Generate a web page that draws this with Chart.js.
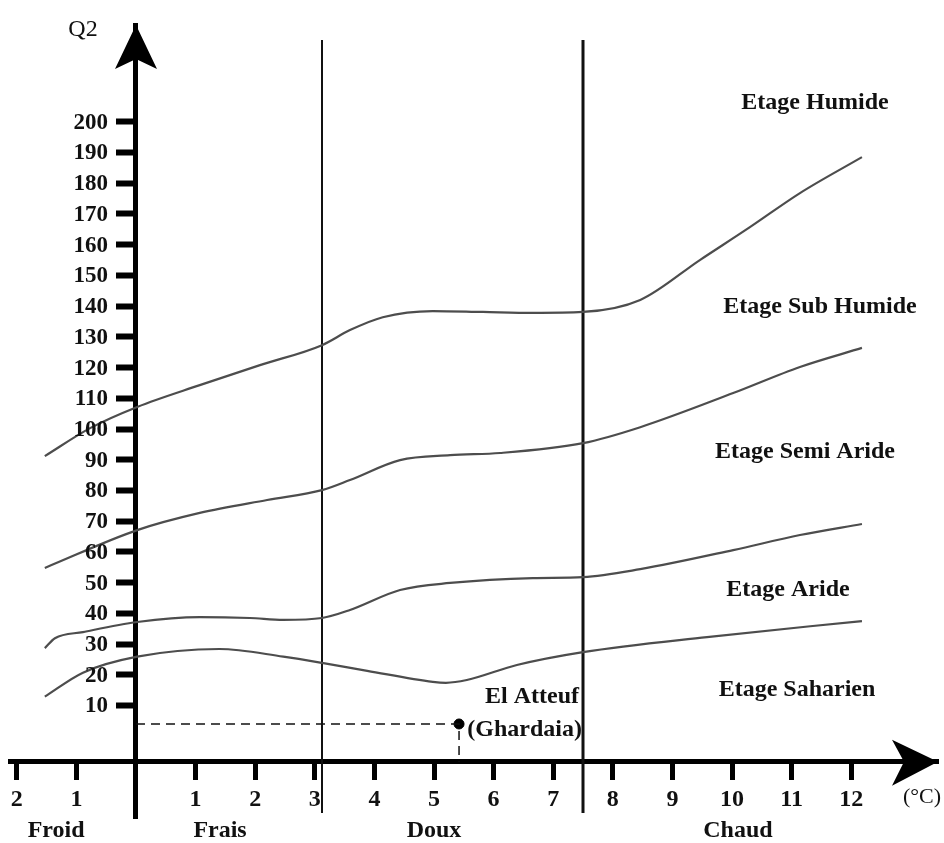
<!DOCTYPE html>
<html>
<head>
<meta charset="utf-8">
<script src="https://cdn.jsdelivr.net/npm/chart.js@4/dist/chart.umd.min.js"></script>
<style>
html,body{margin:0;padding:0;background:#fff;}
</style>
</head>
<body>
<canvas id="myChart" width="944" height="843"></canvas>
<script>
// limites des etages bioclimatiques (m en degC, Q2)
var limHumideX = [-1.53, -0.77, 0.02, 1.07, 2.08, 3.12, 3.59, 4.14, 4.98, 5.82, 6.66, 7.5, 8.46, 9.46, 10.3, 11.14, 12.18];
var limHumideY = [91.2, 100.3, 107.2, 114.3, 120.8, 127.3, 132.2, 136.4, 138.4, 138.1, 137.8, 138.1, 142.0, 155.0, 165.7, 176.8, 188.5];

var limSubHumideX = [-1.53, 0.02, 1.07, 2.2, 3.12, 3.59, 4.43, 5.27, 6.11, 7.5, 8.46, 10.02, 11.14, 12.18];
var limSubHumideY = [54.8, 67.1, 72.7, 76.9, 80.1, 83.4, 89.9, 91.5, 92.2, 95.4, 100.6, 111.7, 120.2, 126.4];

var limSemiArideX = [-1.53, -1.36, -0.89, 0.02, 1.07, 1.91, 2.47, 3.12, 3.59, 4.43, 5.27, 6.66, 7.5, 8.46, 10.02, 11.14, 12.18];
var limSemiArideY = [28.7, 31.9, 33.9, 37.2, 38.8, 38.5, 37.9, 38.5, 41.1, 47.6, 49.9, 51.5, 51.8, 54.4, 60.6, 65.5, 69.1];

var limAridX = [-1.53, -0.89, 0.02, 1.4, 2.47, 3.12, 3.88, 4.98, 5.2, 5.55, 6.39, 7.5, 9.58, 12.18];
var limAridY = [12.9, 20.7, 25.9, 28.4, 25.9, 23.9, 21.3, 17.7, 17.4, 18.3, 23.2, 27.4, 32.3, 37.5];

// station
var stationName = ["El Atteuf", "(Ghardaia)"];
var stationM = 5.42;
var stationQ2 = 4.0;

// limites des variantes (hivers)
var zoneLimits = [3.12, 7.5];
var zoneNames = ["Froid", "Frais", "Doux", "Chaud"];
var zoneCenters = [-1.34, 1.41, 5.0, 10.1];

var etageNames = ["Etage Humide", "Etage Sub Humide", "Etage Semi Aride", "Etage Aride", "Etage Saharien"];

var xTicks = [-2, -1, 1, 2, 3, 4, 5, 6, 7, 8, 9, 10, 11, 12];
var yTicks = [10, 20, 30, 40, 50, 60, 70, 80, 90, 100, 110, 120, 130, 140, 150, 160, 170, 180, 190, 200];

var xAxisAt = -8.3;   // Q2 value where the m axis is drawn

function pts(xs, ys) {
    var out = [];
    for (var i = 0; i < xs.length; i++) {
        out.push({x: xs[i], y: ys[i]});
    }
    return out;
}

function curve(label, xs, ys) {
    return {
        label: label,
        data: pts(xs, ys),
        showLine: true,
        borderColor: '#4d4d4d',
        borderWidth: 2.2,
        pointRadius: 0,
        cubicInterpolationMode: 'monotone',
        fill: false
    };
}

var serif = '"Liberation Serif", "Times New Roman", serif';

var drawExtras = {
    id: 'drawExtras',
    beforeDraw: function(chart) {
        var c = chart.ctx;
        c.save();
        c.fillStyle = '#fff';
        c.fillRect(0, 0, chart.width, chart.height);
        c.restore();
    },
    beforeDatasetsDraw: function(chart) {
        var c = chart.ctx, xs = chart.scales.x, area = chart.chartArea;
        c.save();
        c.strokeStyle = '#111';
        for (var i = 0; i < zoneLimits.length; i++) {
            var px = Math.round(xs.getPixelForValue(zoneLimits[i]));
            c.lineWidth = i == 0 ? 2 : 3;
            c.beginPath();
            c.moveTo(px, area.top + 15);
            c.lineTo(px, area.bottom - 5);
            c.stroke();
        }
        c.restore();
    },
    afterDraw: function(chart) {
        var c = chart.ctx, xs = chart.scales.x, ys = chart.scales.y, area = chart.chartArea;
        var ox = xs.getPixelForValue(0), oy = ys.getPixelForValue(xAxisAt);
        c.save();
        c.fillStyle = '#000';
        // arrow Q2
        c.beginPath();
        c.moveTo(ox, area.top);
        c.lineTo(ox + 21, area.top + 44);
        c.lineTo(ox, area.top + 34);
        c.lineTo(ox - 21, area.top + 44);
        c.closePath();
        c.fill();
        // arrow m
        c.beginPath();
        c.moveTo(area.right, oy);
        c.lineTo(area.right - 46, oy - 22);
        c.lineTo(area.right - 34, oy);
        c.lineTo(area.right - 46, oy + 24);
        c.closePath();
        c.fill();

        // Q2 tick labels, left of the axis
        c.fillStyle = '#111';
        c.textBaseline = 'middle';
        c.textAlign = 'right';
        c.font = 'bold 23px ' + serif;
        ys.ticks.forEach(function(t) {
            c.fillText(String(t.value), ox - 28, ys.getPixelForValue(t.value) + 1);
        });

        c.font = '24px ' + serif;
        c.textAlign = 'center';
        c.fillText('Q2', 83, 30);
        c.font = '22px ' + serif;
        c.fillText('(\u00B0C)', 922, 797);

        c.font = 'bold 24px ' + serif;
        var etagePos = [[815, 103], [820, 307], [805, 452], [788, 590], [797, 690]];
        for (var i = 0; i < etageNames.length; i++) {
            c.fillText(etageNames[i], etagePos[i][0], etagePos[i][1]);
        }
        for (var j = 0; j < zoneNames.length; j++) {
            c.fillText(zoneNames[j], xs.getPixelForValue(zoneCenters[j]), 831);
        }
        c.textAlign = 'right';
        var sy = ys.getPixelForValue(stationQ2);
        c.fillText(stationName[0], 579, sy - 27);
        c.fillText(stationName[1], 582, sy + 6);
        c.restore();
    }
};

var ctx = document.getElementById('myChart');
var myChart = new Chart(ctx, {
    type: 'scatter',
    data: {
        datasets: [
            curve('Humide / Sub Humide', limHumideX, limHumideY),
            curve('Sub Humide / Semi Aride', limSubHumideX, limSubHumideY),
            curve('Semi Aride / Aride', limSemiArideX, limSemiArideY),
            curve('Aride / Saharien', limAridX, limAridY),
            {
                label: 'repere',
                data: [{x: 0, y: stationQ2}, {x: stationM, y: stationQ2}, {x: stationM, y: xAxisAt}],
                showLine: true,
                borderColor: '#111',
                borderWidth: 1.5,
                borderDash: [9, 6],
                pointRadius: 0,
                tension: 0
            },
            {
                label: stationName.join(' '),
                data: [{x: stationM, y: stationQ2}],
                pointRadius: 5,
                pointBackgroundColor: '#000',
                pointBorderColor: '#000'
            }
        ]
    },
    options: {
        responsive: false,
        animation: false,
        devicePixelRatio: 1,
        layout: {padding: {top: 25, left: 10, right: 6, bottom: 25}},
        plugins: {
            legend: {display: false},
            tooltip: {enabled: false}
        },
        scales: {
            x: {
                type: 'linear',
                min: -2.114,
                max: 13.456,
                position: {y: xAxisAt},
                afterBuildTicks: function(scale) {
                    scale.ticks = xTicks.map(function(v) { return {value: v}; });
                },
                grid: {drawOnChartArea: false, drawTicks: true, tickLength: 16, tickWidth: 5, tickColor: '#000'},
                border: {display: true, color: '#000', width: 5},
                ticks: {
                    padding: 8,
                    color: '#111',
                    font: {family: serif, size: 24, weight: 'bold'},
                    callback: function(v) { return Math.abs(v); }
                }
            },
            y: {
                type: 'linear',
                min: -26.6,
                max: 231.5,
                position: {x: 0},
                afterBuildTicks: function(scale) {
                    scale.ticks = yTicks.map(function(v) { return {value: v}; });
                },
                grid: {drawOnChartArea: false, drawTicks: true, tickLength: 17, tickWidth: 6, tickColor: '#000'},
                border: {display: true, color: '#000', width: 5},
                ticks: {display: false}
            }
        }
    },
    plugins: [drawExtras]
});
</script>
</body>
</html>
